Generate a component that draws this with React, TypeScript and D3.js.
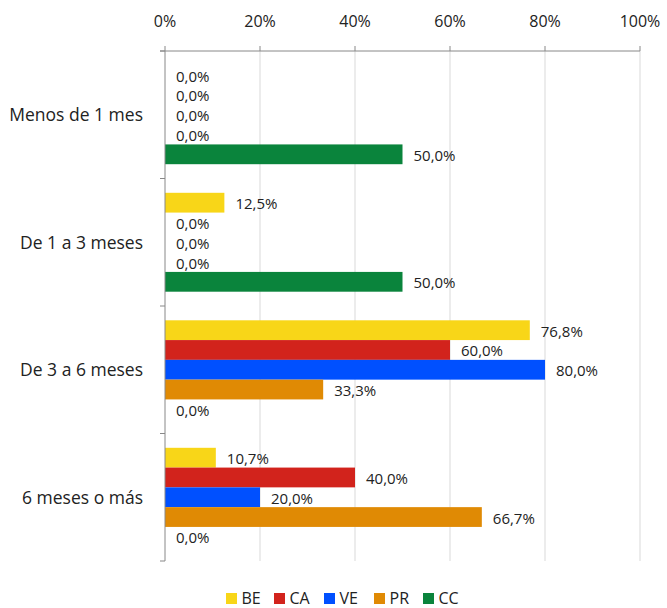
import React from "react";
import * as d3 from "d3";

const categories = ["Menos de 1 mes", "De 1 a 3 meses", "De 3 a 6 meses", "6 meses o más"];
const seriesNames = ["BE", "CA", "VE", "PR", "CC"];
const seriesColors = ["#F8D618", "#D2231C", "#0050FF", "#E08A04", "#0A843C"];
const BE = [0, 12.5, 76.8, 10.7];
const CA = [0, 0, 60.0, 40.0];
const VE = [0, 0, 80.0, 20.0];
const PR = [0, 0, 33.3, 66.7];
const CC = [50.0, 50.0, 0, 0];
const seriesValues = [BE, CA, VE, PR, CC];
const xTicks = [0, 20, 40, 60, 80, 100];

const W = 667;
const H = 608;
const left = 165;
const right = 640;
const top = 51;
const bottom = 561;

export default function App() {
  const x = d3.scaleLinear().domain([0, 100]).range([left, right]);
  const y = d3.scaleBand<string>().domain(categories).range([top, bottom]).paddingInner(0).paddingOuter(0);
  const bandPad = 14.3;
  const inner = d3
    .scaleBand<string>()
    .domain(seriesNames)
    .range([bandPad, y.bandwidth() - bandPad])
    .padding(0);
  const fmt = (v: number) => v.toFixed(1).replace(".", ",") + "%";
  const font = "'Open Sans', sans-serif";
  const yTicks = [top, ...categories.map((c) => (y(c) as number) + y.bandwidth())];
  const legendX = [226, 274, 324, 374, 423];

  return (
    <svg width={W} height={H} style={{ position: "absolute", left: 0, top: 0 }} fontFamily={font}>
      <rect x={0} y={0} width={W} height={H} fill="#fff" />
      {xTicks.slice(1).map((t) => (
        <line key={"g" + t} x1={x(t)} x2={x(t)} y1={top} y2={bottom} stroke="#d9d9d9" strokeWidth={1} />
      ))}
      {seriesValues.map((vals, si) =>
        categories.map((c, ci) => {
          const by = (y(c) as number) + (inner(seriesNames[si]) as number);
          const bh = inner.bandwidth();
          return (
            <g key={si + "-" + ci}>
              {vals[ci] > 0 && (
                <rect x={x(0)} y={by} width={x(vals[ci]) - x(0)} height={bh} fill={seriesColors[si]} />
              )}
              <text x={x(vals[ci]) + 11} y={by + bh / 2 + 6.5} fontSize={15} fill="#222">
                {fmt(vals[ci])}
              </text>
            </g>
          );
        })
      )}
      <line x1={left - 5} x2={right} y1={top} y2={top} stroke="#888" strokeWidth={1} />
      {xTicks.map((t) => (
        <g key={"t" + t}>
          <line x1={x(t)} x2={x(t)} y1={top - 5} y2={top} stroke="#888" />
          <text x={x(t)} y={27} textAnchor="middle" fontSize={16} fill="#222">
            {t + "%"}
          </text>
        </g>
      ))}
      <line x1={left} x2={left} y1={top} y2={bottom} stroke="#888" strokeWidth={1} />
      {yTicks.map((ty, i) => (
        <line key={"yt" + i} x1={left - 5} x2={left} y1={ty} y2={ty} stroke="#888" />
      ))}
      {categories.map((c) => (
        <text
          key={c}
          x={143}
          y={(y(c) as number) + y.bandwidth() / 2 + 6.3}
          textAnchor="end"
          fontSize={17.5}
          fill="#222"
        >
          {c}
        </text>
      ))}
      {seriesNames.map((s, i) => (
        <g key={"l" + s} transform={`translate(${legendX[i]},593)`}>
          <rect x={0} y={0} width={11} height={11} fill={seriesColors[i]} />
          <text x={15.5} y={11} fontSize={16} fill="#222">
            {s}
          </text>
        </g>
      ))}
    </svg>
  );
}
